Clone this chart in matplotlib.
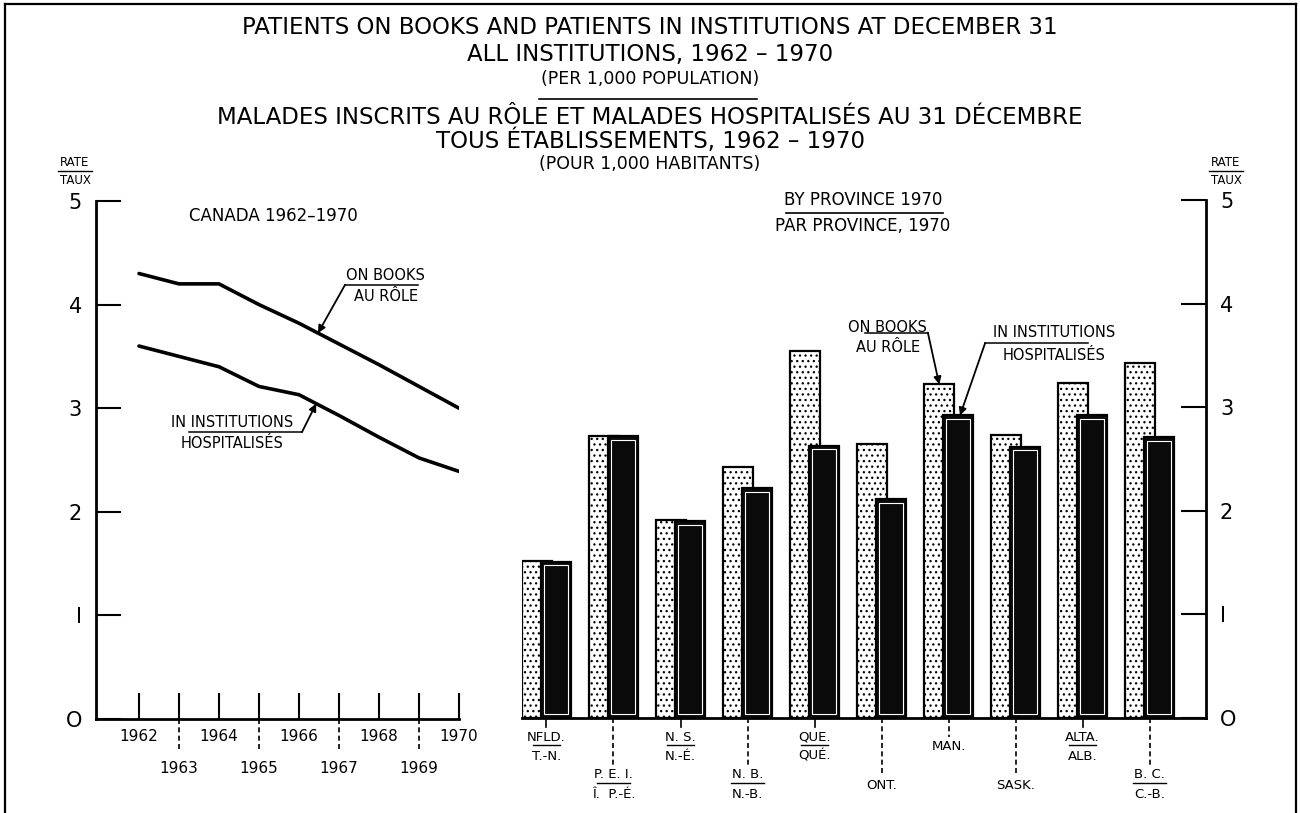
import numpy as np
import matplotlib
matplotlib.use('Agg')
import matplotlib.pyplot as plt
from matplotlib.patches import Rectangle

plt.rcParams['font.family'] = ['DejaVu Sans']
plt.rcParams['hatch.linewidth'] = 0.9

# ---------------- data ----------------
years = [1962, 1963, 1964, 1965, 1966, 1967, 1968, 1969, 1970]
canada_on_books = [4.30, 4.20, 4.20, 4.00, 3.82, 3.62, 3.42, 3.21, 3.00]
canada_in_inst = [3.60, 3.50, 3.40, 3.21, 3.13, 2.93, 2.72, 2.52, 2.39]

prov_en = ['NFLD.', 'P. E. I.', 'N. S.', 'N. B.', 'QUE.', 'ONT.', 'MAN.', 'SASK.', 'ALTA.', 'B. C.']
prov_fr = ['T.-N.', 'Î.  P.-É.', 'N.-É.', 'N.-B.', 'QUÉ.', '', '', '', 'ALB.', 'C.-B.']
prov_on_books = [1.52, 2.72, 1.91, 2.42, 3.54, 2.64, 3.22, 2.73, 3.23, 3.43]
prov_in_inst = [1.51, 2.72, 1.90, 2.22, 2.63, 2.11, 2.92, 2.62, 2.92, 2.71]
prov_row = [0, 1, 0, 1, 0, 1, 0, 1, 0, 1]   # 0 = upper label row, 1 = lower label row

y_ticks = [0, 1, 2, 3, 4, 5]
y_ticklabels = ['O', 'I', '2', '3', '4', '5']

title_lines = [
    ('PATIENTS ON BOOKS AND PATIENTS IN INSTITUTIONS AT DECEMBER 31', 28, 16.5),
    ('ALL INSTITUTIONS, 1962 – 1970', 54, 16.5),
    ('(PER 1,000 POPULATION)', 79, 12.5),
    ('MALADES INSCRITS AU RÔLE ET MALADES HOSPITALISÉS AU 31 DÉCEMBRE', 117, 16.5),
    ('TOUS ÉTABLISSEMENTS, 1962 – 1970', 141, 16.5),
    ('(POUR 1,000 HABITANTS)', 164, 12.5),
]

# ---------------- figure ----------------
W, H = 1300, 813
fig = plt.figure(figsize=(W / 100, H / 100), dpi=100)
fig.patch.set_facecolor('white')


def fx(x):
    return x / W


def fy(y):
    return 1 - y / H


# frame
for (x0, y0, x1, y1) in [(5, 4, 1296, 4), (5, 4, 5, 813), (1296, 4, 1296, 813)]:
    fig.add_artist(plt.Line2D([fx(x0), fx(x1)], [fy(y0), fy(y1)], color='black', lw=1.6,
                              transform=fig.transFigure))

# titles
for txt, ypx, fs in title_lines:
    fig.text(0.5, fy(ypx), txt, ha='center', va='center', fontsize=fs, color='black')
fig.add_artist(plt.Line2D([fx(539), fx(757)], [fy(99), fy(99)], color='black', lw=1.2,
                          transform=fig.transFigure))

# RATE / TAUX labels
for xc in (75, 1226):
    fig.text(fx(xc), fy(162), 'RATE', ha='center', va='center', fontsize=8.5)
    fig.text(fx(xc), fy(181), 'TAUX', ha='center', va='center', fontsize=8.5)
    fig.add_artist(plt.Line2D([fx(xc - 17), fx(xc + 17)], [fy(171), fy(171)], color='black',
                              lw=1.0, transform=fig.transFigure))

# ---------------- left panel: Canada lines ----------------
ax1 = fig.add_axes([fx(96), fy(719), (459 - 96) / W, (719 - 201) / H])
ax1.set_xlim(1960.925, 1970)
ax1.set_ylim(0, 5)
for s in ('top', 'right'):
    ax1.spines[s].set_visible(False)
for s in ('left', 'bottom'):
    ax1.spines[s].set_linewidth(2.0)
ax1.set_yticks(y_ticks)
ax1.set_yticklabels(y_ticklabels)
ax1.tick_params(axis='y', direction='in', length=18, width=1.5, labelsize=15, pad=10)

even_years = [y for y in years if y % 2 == 0]
odd_years = [y for y in years if y % 2 == 1]
ax1.set_xticks(even_years)
ax1.set_xticklabels([str(y) for y in even_years])
ax1.set_xticks(odd_years, minor=True)
ax1.set_xticklabels([str(y) for y in odd_years], minor=True)
ax1.tick_params(axis='x', which='major', direction='in', length=19, width=1.5,
                labelsize=11, pad=7)
ax1.tick_params(axis='x', which='minor', direction='in', length=19, width=1.5,
                labelsize=11, pad=30)
for y in odd_years:
    ax1.plot([y, y], [0, -33 / 518], transform=ax1.get_xaxis_transform(), color='black',
             lw=1.2, ls=(0, (3, 2)), clip_on=False)

ax1.plot(years, canada_on_books, color='black', lw=2.6, solid_capstyle='round')
ax1.plot(years, canada_in_inst, color='black', lw=2.6, solid_capstyle='round')

ax1.text(1965.35, 4.86, 'CANADA 1962–1970', ha='center', va='center', fontsize=12)

arrow = dict(arrowstyle='-|>', color='black', lw=1.3, mutation_scale=11, shrinkA=0, shrinkB=0)
# on books label
xt = 1966.475
ax1.annotate('', xy=(xt, np.interp(xt, years, canada_on_books)), xytext=(1967.15, 4.19),
             arrowprops=arrow)
ax1.plot([1967.15, 1968.975], [4.19, 4.19], color='black', lw=1.1)
ax1.text(1968.15, 4.28, 'ON BOOKS', ha='center', va='center', fontsize=10.5)
ax1.text(1968.17, 4.08, 'AU RÔLE', ha='center', va='center', fontsize=10.5)
# in institutions label
xt = 1966.43
ax1.annotate('', xy=(xt, np.interp(xt, years, canada_in_inst)), xytext=(1966.075, 2.77),
             arrowprops=arrow)
ax1.plot([1963.25, 1966.075], [2.77, 2.77], color='black', lw=1.1)
ax1.text(1964.33, 2.86, 'IN INSTITUTIONS', ha='center', va='center', fontsize=10.5)
ax1.text(1964.33, 2.66, 'HOSPITALISÉS', ha='center', va='center', fontsize=10.5)

# ---------------- right panel: provinces bars ----------------
ax2 = fig.add_axes([fx(522), fy(718), (1206 - 522) / W, 518 / H])
ax2.set_xlim(-0.365, 9.84)
ax2.set_ylim(0, 5)
for s in ('top', 'left'):
    ax2.spines[s].set_visible(False)
for s in ('right', 'bottom'):
    ax2.spines[s].set_linewidth(2.0)
ax2.yaxis.tick_right()
ax2.set_yticks(y_ticks)
ax2.set_yticklabels(y_ticklabels)
ax2.tick_params(axis='y', direction='in', length=18, width=1.5, labelsize=15, pad=10)
ax2.set_xticks([])

x = np.arange(len(prov_en))
bw = 0.45
off = 0.14
ax2.bar(x - off, prov_on_books, width=bw, facecolor='white', edgecolor='black',
        linewidth=1.6, hatch='...', zorder=2)
ax2.bar(x + off, prov_in_inst, width=bw, facecolor='#0a0a0a', edgecolor='black',
        linewidth=1.6, zorder=3)
dx, dy = 0.05, 0.035
for xi, v in zip(x, prov_in_inst):
    ax2.add_patch(Rectangle((xi + off - bw / 2 + dx, dy), bw - 2 * dx, v - 2 * dy,
                            fill=False, edgecolor='white', lw=0.8, zorder=4))

tr = ax2.get_xaxis_transform()


def ay(px):
    # pixels below the baseline -> axes fraction
    return -px / 518


for xi, en, fr, row in zip(x, prov_en, prov_fr, prov_row):
    if row == 0:
        if fr:
            ax2.plot([xi, xi], [0, ay(9)], transform=tr, color='black', lw=1.2, clip_on=False)
            ax2.text(xi, ay(19), en, transform=tr, ha='center', va='center', fontsize=9.5)
            ax2.plot([xi - 0.2, xi + 0.2], [ay(27), ay(27)], transform=tr, color='black',
                     lw=1.0, clip_on=False)
            ax2.text(xi, ay(38), fr, transform=tr, ha='center', va='center', fontsize=9.5)
        else:
            ax2.plot([xi, xi], [0, ay(19)], transform=tr, color='black', lw=1.2,
                     ls=(0, (3, 2)), clip_on=False)
            ax2.text(xi, ay(28), en, transform=tr, ha='center', va='center', fontsize=9.5)
    else:
        if fr:
            ax2.plot([xi, xi], [0, ay(49)], transform=tr, color='black', lw=1.2,
                     ls=(0, (3, 2)), clip_on=False)
            ax2.text(xi, ay(56), en, transform=tr, ha='center', va='center', fontsize=9.5)
            ax2.plot([xi - 0.25, xi + 0.25], [ay(65), ay(65)], transform=tr, color='black',
                     lw=1.0, clip_on=False)
            ax2.text(xi, ay(76), fr, transform=tr, ha='center', va='center', fontsize=9.5)
        else:
            ax2.plot([xi, xi], [0, ay(58)], transform=tr, color='black', lw=1.2,
                     ls=(0, (3, 2)), clip_on=False)
            ax2.text(xi, ay(67), en, transform=tr, ha='center', va='center', fontsize=9.5)

# province headings
fig.text(fx(863), fy(200), 'BY PROVINCE 1970', ha='center', va='center', fontsize=12)
fig.add_artist(plt.Line2D([fx(786), fx(943)], [fy(213), fy(213)], color='black', lw=1.2,
                          transform=fig.transFigure))
fig.text(fx(863), fy(226), 'PAR PROVINCE, 1970', ha='center', va='center', fontsize=12)

# bar annotations (pointing at Manitoba bars)
i_man = prov_en.index('MAN.')
ax2.annotate('', xy=(i_man - off, prov_on_books[i_man]), xytext=(5.69, 3.72), arrowprops=arrow)
ax2.plot([4.75, 5.69], [3.72, 3.72], color='black', lw=1.1)
ax2.text(5.09, 3.77, 'ON BOOKS', ha='center', va='center', fontsize=10.5)
ax2.text(5.09, 3.58, 'AU RÔLE', ha='center', va='center', fontsize=10.5)
ax2.annotate('', xy=(i_man + off + 0.03, prov_in_inst[i_man]), xytext=(6.545, 3.62),
             arrowprops=arrow)
ax2.plot([6.545, 8.08], [3.62, 3.62], color='black', lw=1.1)
ax2.text(7.57, 3.72, 'IN INSTITUTIONS', ha='center', va='center', fontsize=10.5)
ax2.text(7.57, 3.50, 'HOSPITALISÉS', ha='center', va='center', fontsize=10.5)

fig.savefig('out.png', dpi=100, facecolor='white')
